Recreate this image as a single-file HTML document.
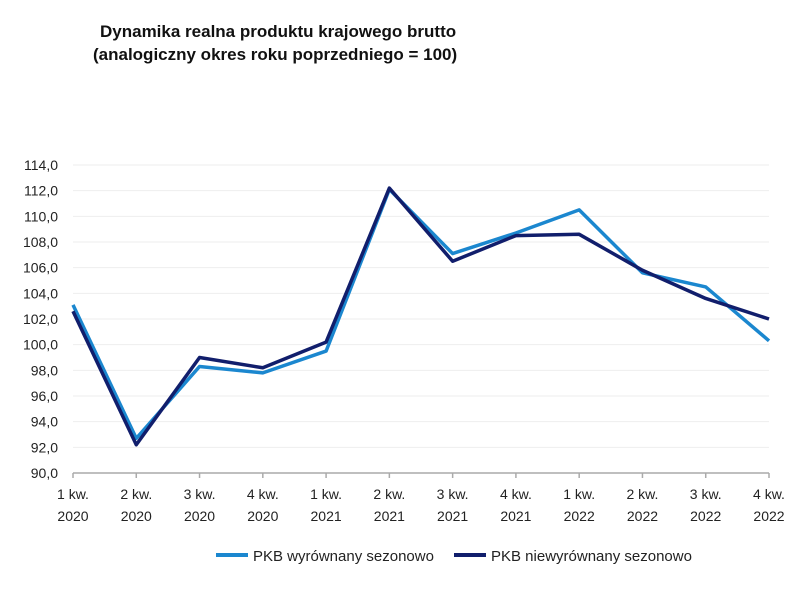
<!DOCTYPE html>
<html><head><meta charset="utf-8"><style>
body{margin:0;background:#fff;width:800px;height:586px;overflow:hidden;font-family:"Liberation Sans",sans-serif}
</style></head><body>
<svg width="800" height="586" viewBox="0 0 800 586" style="font-family:'Liberation Sans',sans-serif">
<text x="100" y="37" font-size="17" font-weight="bold" fill="#111">Dynamika realna produktu krajowego brutto</text>
<text x="93" y="60" font-size="17" font-weight="bold" fill="#111">(analogiczny okres roku poprzedniego = 100)</text>
<g id="grid"></g><g id="yt"></g><g id="xt"></g><g id="lines"></g>
<g>
<line x1="216" y1="555" x2="248" y2="555" stroke="#1b87cf" stroke-width="4"/>
<text x="253" y="561" font-size="15" fill="#222">PKB wyrównany sezonowo</text>
<line x1="454" y1="555" x2="486" y2="555" stroke="#111e6c" stroke-width="4"/>
<text x="491" y="561" font-size="15" fill="#222">PKB niewyrównany sezonowo</text>
</g>
</svg>
<script>
const quarters=["1 kw.","2 kw.","3 kw.","4 kw.","1 kw.","2 kw.","3 kw.","4 kw.","1 kw.","2 kw.","3 kw.","4 kw."];
const years=["2020","2020","2020","2020","2021","2021","2021","2021","2022","2022","2022","2022"];
const adjusted=[103.1,92.7,98.3,97.8,99.5,112.1,107.1,108.7,110.5,105.6,104.5,100.3];
const unadjusted=[102.6,92.2,99.0,98.2,100.2,112.2,106.5,108.5,108.6,105.8,103.6,102.0];
const yTicks=[90,92,94,96,98,100,102,104,106,108,110,112,114];
const ns="http://www.w3.org/2000/svg";
const x0=73,x1=769,yb=473,yt=165,ymin=90,ymax=114;
const xs=i=>x0+i*(x1-x0)/(quarters.length-1);
const ys=v=>yb-(v-ymin)/(ymax-ymin)*(yb-yt);
function mk(t,a,p){const e=document.createElementNS(ns,t);for(const k in a)e.setAttribute(k,a[k]);document.getElementById(p).appendChild(e);return e;}
yTicks.forEach(v=>{
 if(v>ymin){const g=mk('line',{x1:x0,x2:x1,y1:ys(v),y2:ys(v),stroke:'#eeeeee','stroke-width':1},'grid');
 
 }
 const t=mk('text',{x:58,y:ys(v)+5,'font-size':14,'text-anchor':'end',fill:'#222'},'yt');
 t.textContent=v.toFixed(1).replace('.',',');
 
 
});
const ax=mk('line',{x1:x0,x2:x1,y1:yb,y2:yb,stroke:'#aaa','stroke-width':1.5},'xt');


quarters.forEach((q,i)=>{
 const tk=mk('line',{x1:xs(i),x2:xs(i),y1:yb,y2:yb+5,stroke:'#aaa','stroke-width':1.5},'xt');
 
 
 const t1=mk('text',{x:xs(i),y:499,'font-size':14,'text-anchor':'middle',fill:'#222'},'xt');
 t1.textContent=q;
 
 
 const t2=mk('text',{x:xs(i),y:521,'font-size':14,'text-anchor':'middle',fill:'#222'},'xt');
 t2.textContent=years[i];
 
 
});
function series(arr,col,name){
 const p=mk('polyline',{points:arr.map((v,i)=>xs(i)+','+ys(v)).join(' '),fill:'none',stroke:col,'stroke-width':3.5,'stroke-linejoin':'round'},'lines');
 
 
}
series(adjusted,'#1b87cf','line-seasonally-adjusted');
series(unadjusted,'#111e6c','line-not-adjusted');
</script>
</body></html>
